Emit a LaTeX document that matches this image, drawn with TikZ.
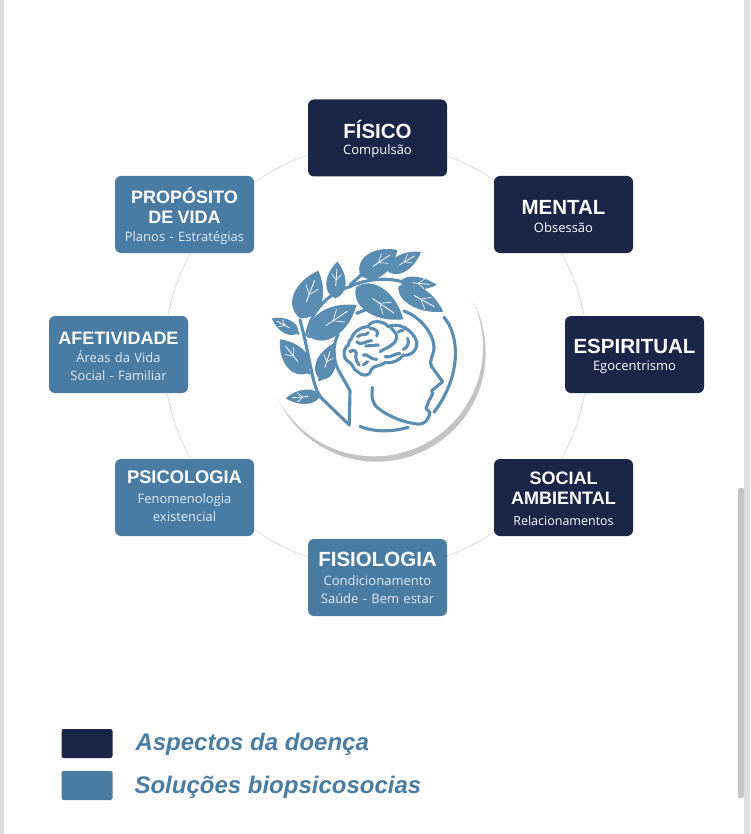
\documentclass[tikz,border=0pt]{standalone}
\usepackage{fontspec}
\setmainfont{Liberation Sans}
\newfontfamily\subfont{Open Sans}
\usetikzlibrary{calc}
\definecolor{darkbox}{HTML}{1B2547}
\definecolor{bluebox}{HTML}{4A7BA3}
\definecolor{iconblue}{HTML}{5B8DB3}
\definecolor{ringgray}{HTML}{DEDEE2}
\definecolor{subblue}{HTML}{DCEAF4}
\newcommand{\ttl}[2][18]{{\fontsize{#1}{18}\selectfont\bfseries #2}}
\newcommand{\sbt}[2][13]{{\subfont\fontsize{#1}{18}\selectfont #2}}
\newcommand{\fst}[1]{\rule{0pt}{#1pt}}
\newcommand{\lst}[1]{\rule[-#1pt]{0pt}{#1pt}}
% leaf: base x, base y, tip x, tip y, half-width factor
\newcommand{\leafshape}[5]{%
  \pgfmathsetmacro{\dxx}{#3-#1}\pgfmathsetmacro{\dyy}{#4-#2}%
  \fill[iconblue] (#1,#2) .. controls ({#1+.12*\dxx-#5*\dyy},{#2+.12*\dyy+#5*\dxx}) and ({#1+.62*\dxx-#5*\dyy},{#2+.62*\dyy+#5*\dxx}) .. (#3,#4)
     .. controls ({#1+.62*\dxx+#5*\dyy},{#2+.62*\dyy-#5*\dxx}) and ({#1+.12*\dxx+#5*\dyy},{#2+.12*\dyy-#5*\dxx}) .. cycle;
  \draw[white,line width=.8pt,line cap=round] ({#1+.35*\dxx},{#2+.35*\dyy}) -- ({#1+.8*\dxx},{#2+.8*\dyy});
  \draw[white,line width=.6pt,line cap=round] ({#1+.5*\dxx},{#2+.5*\dyy}) -- ({#1+.66*\dxx-.13*\dyy},{#2+.66*\dyy+.13*\dxx});
  \draw[white,line width=.6pt,line cap=round] ({#1+.5*\dxx},{#2+.5*\dyy}) -- ({#1+.66*\dxx+.13*\dyy},{#2+.66*\dyy-.13*\dxx});
}
\tikzset{
  card/.style={rounded corners=6pt,minimum width=139pt,minimum height=77pt,inner sep=2pt,
     align=center,anchor=center,text width=135pt,font=\fontsize{13}{18}\selectfont},
  doenca/.style={card,fill=darkbox,text=white},
  solucao/.style={card,fill=bluebox,text=white},
  iconline/.style={draw=iconblue,line width=3.1pt,line cap=round,line join=round},
  legendtext/.style={text=bluebox,anchor=west,font=\fontsize{24}{26}\selectfont\bfseries\itshape},
  legendkey/.style={rounded corners=2pt,minimum width=51pt,minimum height=29pt,inner sep=0pt},
}
\begin{document}
\begin{tikzpicture}[x=1pt,y=-1pt]
\useasboundingbox (0,0) rectangle (750,834);
\fill[white] (0,0) rectangle (750,834);
% page edges and scrollbar
\fill[ringgray] (0,0) rectangle (4,834);
\fill[ringgray] (744,0) rectangle (750,834);
\fill[black!23,rounded corners=2pt] (738,488) rectangle (744,798);
% ring
\coordinate (ringcentre) at (376,356);
\draw[draw=ringgray,line width=.9pt] (ringcentre) circle (212);
% central medallion
\fill[black!23] (376.7,352.7) circle (109);
\fill[white] (374,347.3) circle (109);
\begin{scope}[shift={(250,230)},x=.3333pt,y=-.3333pt]
% stems
\draw[iconline] (298,585) -- (215,505) .. controls (185,470) and (185,400) .. (150,270);
\draw[iconline] (170,315) .. controls (180,250) and (230,190) .. (300,170) .. controls (340,150) and (400,140) .. (455,155);
\draw[iconline] (300,165) -- (345,125);
\draw[iconline] (345,135) -- (430,115);
\draw[iconline] (175,320) -- (225,305);
\draw[iconline] (210,500) -- (150,505);
\draw[iconline] (145,310) -- (110,285);
\draw[iconline] (178,430) -- (150,390);
\draw[iconline] (208,450) -- (225,420);
% leaves
\leafshape{330}{135}{442}{60}{.38}
\leafshape{415}{125}{513}{66}{.3}
\leafshape{450}{155}{560}{165}{.23}
\leafshape{445}{170}{580}{245}{.27}
\leafshape{318}{172}{460}{268}{.33}
\leafshape{255}{205}{262}{95}{.35}
\leafshape{150}{265}{205}{122}{.38}
\leafshape{178}{320}{320}{225}{.33}
\leafshape{145}{308}{65}{265}{.31}
\leafshape{172}{430}{90}{328}{.36}
\leafshape{212}{450}{248}{342}{.35}
\leafshape{210}{497}{107}{505}{.28}
% head
\draw[iconline] (298,585) -- (300,482) -- (265,420) .. controls (245,380) and (250,340) .. (265,312);
\draw[iconline] (320,250) -- (345,240);
\draw[iconline] (462,243) .. controls (510,260) and (550,310) .. (552,350) .. controls (553,375) and (535,390) .. (545,410)
  -- (578,455) -- (545,482) -- (548,492) -- (537,512) -- (528,535) -- (540,548) .. controls (535,570) and (525,585) .. (500,582)
  .. controls (450,575) and (410,555) .. (385,535) .. controls (365,520) and (365,500) .. (367,472);
\draw[iconline] (582,262) .. controls (625,310) and (640,430) .. (552,547);
\draw[iconline] (330,589) .. controls (375,608) and (430,605) .. (475,592);
% brain (crop coordinates of the brain detail)
\begin{scope}[shift={(255,240)}]
\draw[iconline] (50,85) .. controls (55,65) and (80,50) .. (100,50) .. controls (105,30) and (145,30) .. (160,50)
  .. controls (190,35) and (235,60) .. (245,95) .. controls (250,120) and (225,140) .. (205,135)
  .. controls (195,150) and (175,160) .. (150,158) .. controls (135,170) and (115,165) .. (108,180)
  .. controls (105,200) and (80,200) .. (68,185) .. controls (55,180) and (55,165) .. (45,158)
  .. controls (25,150) and (20,120) .. (40,105) .. controls (40,95) and (45,90) .. (50,85);
\draw[iconline] (68,80) .. controls (80,68) and (90,80) .. (100,68);
\draw[iconline] (65,95) .. controls (80,110) and (95,90) .. (110,92) (92,108) -- (130,105);
\draw[iconline] (105,55) .. controls (120,55) and (135,65) .. (125,78);
\draw[iconline] (165,48) .. controls (170,60) and (190,70) .. (185,85) .. controls (180,105) and (160,110) .. (135,125);
\draw[iconline] (190,65) -- (205,60) (218,85) .. controls (225,100) and (215,115) .. (205,118);
\draw[iconline] (45,125) .. controls (55,115) and (70,125) .. (62,140) .. controls (60,150) and (68,155) .. (72,165);
\draw[iconline] (85,135) .. controls (100,130) and (105,150) .. (125,148) (150,140) .. controls (165,145) and (180,130) .. (195,130);
\draw[iconline] (85,165) -- (98,155);
\end{scope}
\end{scope}
% cards
\node[doenca] (fisico) at (377.5,138) {\fst{21}\ttl[20.5]{FÍSICO}\\[-2pt]\sbt{Compulsão}};
\node[doenca] (mental) at (563.5,214.5) {\fst{18}\ttl[20.5]{MENTAL}\\\sbt{Obsessão}};
\node[doenca] (espiritual) at (634.5,354.5) {\fst{18}\ttl[20.5]{ESPIRITUAL}\\[-1pt]\sbt{Egocentrismo}};
\node[doenca] (social) at (563.5,497.5) {\fst{15}\ttl{SOCIAL}\\[2pt]\ttl{AMBIENTAL}\\[3pt]\sbt[12.5]{Relacionamentos}};
\node[solucao] (fisiologia) at (377.5,577.5) {\ttl[20.5]{FISIOLOGIA}\\[1pt]\color{subblue}\sbt{Condicionamento}\\\color{subblue}\sbt{Saúde - Bem estar}};
\node[solucao] (psicologia) at (184.5,497.5) {\ttl[18.3]{PSICOLOGIA}\\[2pt]\color{subblue}\sbt{Fenomenologia}\\\color{subblue}\sbt{existencial}\lst{3}};
\node[solucao] (afetividade) at (118.5,354.5) {\fst{17}\ttl{AFETIVIDADE}\\\color{subblue}\sbt{Áreas da Vida}\\\color{subblue}\sbt{Social - Familiar}};
\node[solucao] (proposito) at (184.5,214.5) {\fst{19}\ttl{PROPÓSITO}\\[2pt]\ttl{DE VIDA}\\[0pt]\color{subblue}\sbt{Planos - Estratégias}};
% legend
\node[legendkey,fill=darkbox] (keyd) at (87,743.5) {};
\node[legendkey,fill=bluebox] (keys) at (87,785.5) {};
\node[legendtext] (labd) at (132,744) {Aspectos da doença};
\node[legendtext] (labs) at (131,787) {Soluções biopsicosocias};
\end{tikzpicture}
\end{document}
